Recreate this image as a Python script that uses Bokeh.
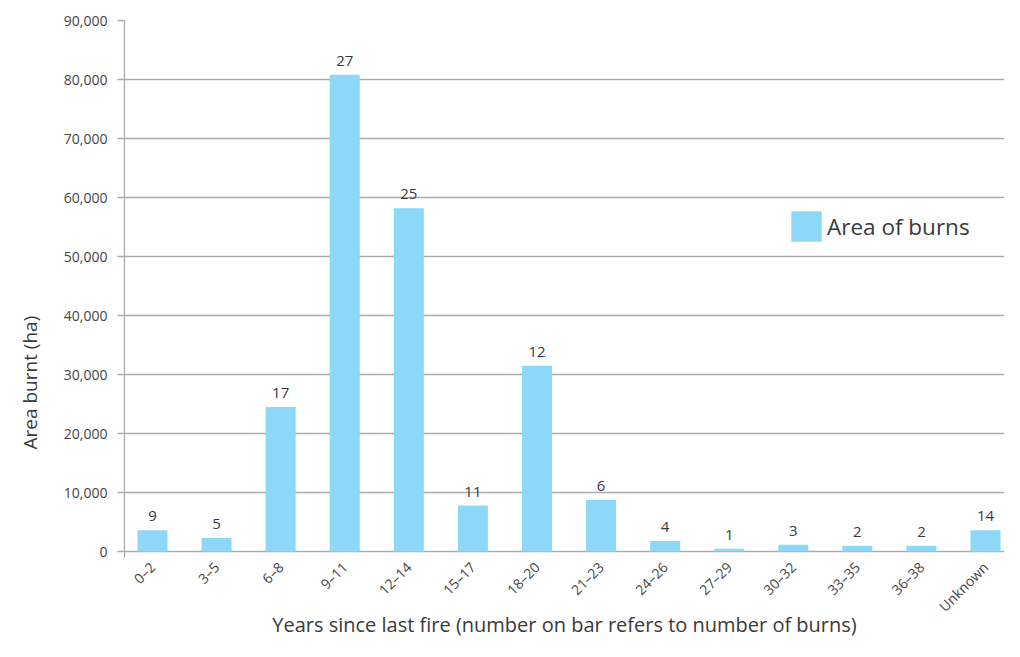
import math
from bokeh.plotting import figure
from bokeh.models import (Range1d, FixedTicker, NumeralTickFormatter, Title,
                          Legend, LegendItem, ColumnDataSource)
from bokeh.core.properties import value
from bokeh.embed import file_html
from bokeh.resources import INLINE

categories = ["0–2", "3–5", "6–8", "9–11", "12–14", "15–17", "18–20",
              "21–23", "24–26", "27–29", "30–32", "33–35", "36–38", "Unknown"]
area_ha = [3600, 2300, 24500, 80800, 58200, 7800, 31500,
           8750, 1800, 500, 1150, 1000, 1000, 3600]
num_burns = [9, 5, 17, 27, 25, 11, 12, 6, 4, 1, 3, 2, 2, 14]
y_ticks = [0, 10000, 20000, 30000, 40000, 50000, 60000, 70000, 80000, 90000]

FONT = "Open Sans"
BAR = "#8DD8F7"
GRID = "#ababab"
TXT = "#3a3a3a"

xs = list(range(len(categories)))
src = ColumnDataSource(dict(x=xs, area=area_ha,
                            n=[str(v) for v in num_burns]))

p = figure(width=1004, height=641, output_backend="svg", toolbar_location=None,
           x_range=Range1d(-0.437, 13.296), y_range=Range1d(-1000, 90000),
           min_border_left=124, min_border_right=0, min_border_top=20,
           min_border_bottom=70)
p.outline_line_color = None
p.background_fill_color = "white"
p.border_fill_color = "white"

bars = p.vbar(x="x", top="area", width=0.468, bottom=0, source=src,
              fill_color=BAR, line_color=None)
p.text(x="x", y="area", text="n", source=src, y_offset=-14,
       text_align="center", text_baseline="alphabetic",
       text_font=value(FONT), text_font_size="15px", text_color=TXT)

# y axis
ya = p.yaxis[0]
ya.ticker = FixedTicker(ticks=y_ticks)
ya.formatter = NumeralTickFormatter(format="0,0")
ya.axis_line_color = GRID
ya.axis_line_width = 1.3
ya.major_tick_line_color = GRID
ya.major_tick_line_width = 1.3
ya.major_tick_in = 0
ya.major_tick_out = 7
ya.minor_tick_line_color = None
ya.major_label_text_font = FONT
ya.major_label_text_font_size = "14px"
ya.major_label_text_color = "#444444"
ya.major_label_standoff = 10

# x axis
xa = p.xaxis[0]
xa.ticker = FixedTicker(ticks=xs)
xa.major_label_overrides = {i: c for i, c in enumerate(categories)}
xa.major_label_orientation = math.pi / 4
xa.axis_line_color = None
xa.major_tick_line_color = None
xa.major_tick_in = 0
xa.major_tick_out = 0
xa.minor_tick_line_color = None
xa.major_label_text_font = FONT
xa.major_label_text_font_size = "14px"
xa.major_label_text_color = "#444444"
xa.major_label_standoff = 7
xa.axis_label = "Years since last fire (number on bar refers to number of burns)"
xa.axis_label_text_font = FONT
xa.axis_label_text_font_size = "20px"
xa.axis_label_text_font_style = "normal"
xa.axis_label_text_color = TXT
xa.axis_label_standoff = -14

p.xgrid.grid_line_color = None
p.ygrid.grid_line_color = GRID
p.ygrid.grid_line_width = 1.3

# y axis title
p.add_layout(Title(text="Area burnt (ha)", align="left", offset=108,
                   vertical_align="top",
                   text_font=FONT, text_font_size="19px",
                   text_font_style="normal", text_color=TXT,
                   standoff=32), "left")

legend = Legend(items=[LegendItem(label="Area of burns", renderers=[bars])],
                location=(663, 312), glyph_width=38, glyph_height=38,
                label_height=38, label_standoff=2, padding=0, margin=0,
                border_line_color=None, background_fill_alpha=0,
                label_text_font=FONT, label_text_font_size="22.5px",
                label_text_color=TXT)
p.add_layout(legend)

open("out.html", "w").write(file_html(p, INLINE))
